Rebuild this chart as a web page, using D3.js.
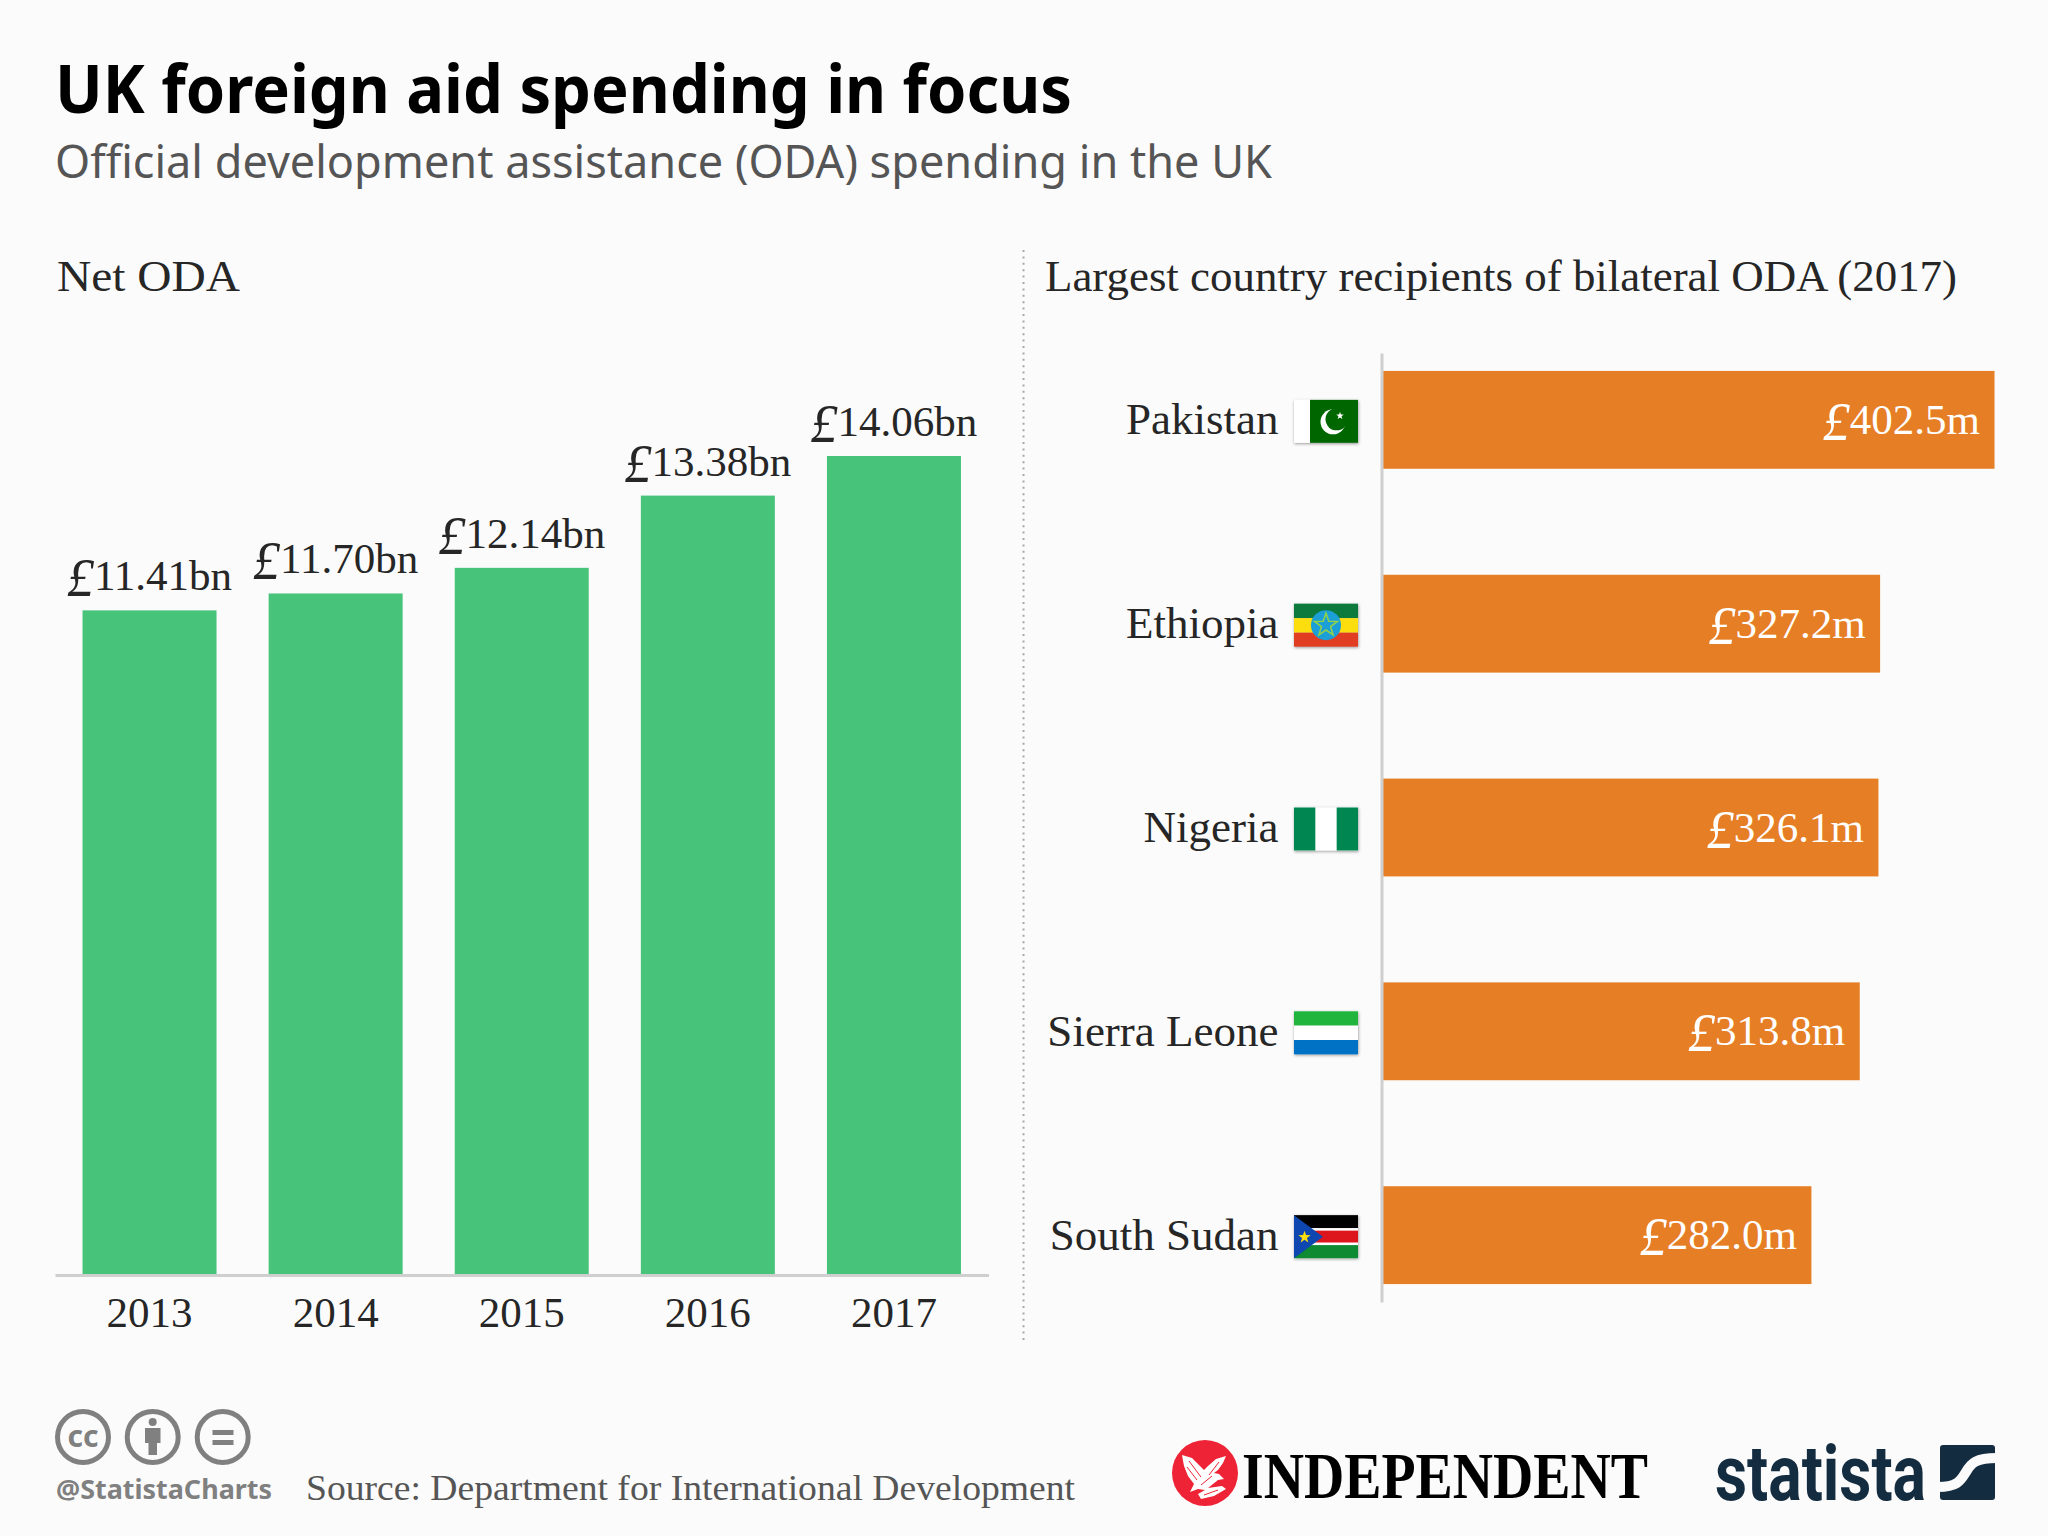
<!DOCTYPE html>
<html>
<head>
<meta charset="utf-8">
<script src="https://cdnjs.cloudflare.com/ajax/libs/d3/7.8.5/d3.min.js"></script>
<style>
  html, body { margin: 0; padding: 0; background: #fbfbfb; }
  svg { display: block; }
  text { font-family: "Liberation Serif", serif; fill: #262626; }
</style>
</head>
<body>
<div id="chart"></div>
<script>
var years = ['2013', '2014', '2015', '2016', '2017'];
var netOda = [11.41, 11.70, 12.14, 13.38, 14.06];
var netOdaLabels = ['11.41bn', '11.70bn', '12.14bn', '13.38bn', '14.06bn'];

var countries = ['Pakistan', 'Ethiopia', 'Nigeria', 'Sierra Leone', 'South Sudan'];
var bilateral = [402.5, 327.2, 326.1, 313.8, 282.0];
var bilateralLabels = ['402.5m', '327.2m', '326.1m', '313.8m', '282.0m'];

var GREEN = '#47c37a', ORANGE = '#e67e25', AXIS = '#cfcfcf';

var svg = d3.select('#chart').append('svg').attr('width', 2048).attr('height', 1536);
svg.append('rect').attr('width', 2048).attr('height', 1536).attr('fill', '#fbfbfb');

var defs = svg.append('defs');
var shadow = defs.append('filter').attr('id', 'flagShadow')
  .attr('x', '-10%').attr('y', '-10%').attr('width', '120%').attr('height', '125%');
shadow.append('feDropShadow').attr('dx', 0.5).attr('dy', 1).attr('stdDeviation', 1.6)
  .attr('flood-color', '#000').attr('flood-opacity', 0.4);

// fixed-width text helper, the reference fonts are not installed
function label(x, y, str, size, opts) {
  opts = opts || {};
  var t = svg.append('text').attr('x', x).attr('y', y).text(str)
    .style('font-size', size + 'px');
  if (opts.family) t.style('font-family', opts.family);
  if (opts.weight) t.style('font-weight', opts.weight);
  if (opts.fill) t.style('fill', opts.fill);
  if (opts.width) t.attr('textLength', opts.width).attr('lengthAdjust', 'spacingAndGlyphs');
  return t;
}

// the reference has a big swash pound sign hanging below the baseline
function addPound(sel, fill) {
  sel.append('tspan').text('£')
    .attr('dy', 6)
    .style('font-style', 'italic')
    .style('font-size', '54px')
    .style('fill', fill);
  sel.append('tspan').text(function(d) { return d; })
    .attr('dy', -6)
    .style('fill', fill);
}

var SANS = '"Noto Sans", sans-serif';
label(55, 113, 'UK foreign aid spending in focus', 67, { family: SANS, weight: 700, fill: '#000', width: 1017 });
label(55, 178, 'Official development assistance (ODA) spending in the UK', 45, { family: SANS, fill: '#555', width: 1217 });
label(57, 291, 'Net ODA', 44, { width: 183 });
label(1045, 291, 'Largest country recipients of bilateral ODA (2017)', 44, { width: 912 });

// divider between the panels
svg.append('line').attr('x1', 1023.5).attr('x2', 1023.5).attr('y1', 250).attr('y2', 1342)
  .attr('stroke', '#a8a8a8').attr('stroke-width', 2).attr('stroke-dasharray', '2 4.4');

// left panel
var x = d3.scaleBand().domain(years).range([55, 988.5]).paddingInner(0.28).paddingOuter(0.148);
var yLeft = d3.scaleLinear().domain([0, 14.06]).range([1275, 456]);

svg.selectAll('.bar').data(netOda).enter().append('rect')
  .attr('class', 'bar')
  .attr('x', function(d, i) { return x(years[i]); })
  .attr('y', function(d) { return yLeft(d); })
  .attr('width', x.bandwidth())
  .attr('height', function(d) { return yLeft(0) - yLeft(d); })
  .attr('fill', GREEN);

var xAxis = svg.append('g').attr('transform', 'translate(0,1275)')
  .call(d3.axisBottom(x).tickSize(0).tickSizeOuter(0).tickPadding(21));
xAxis.select('.domain').attr('stroke', AXIS).attr('stroke-width', 3);
xAxis.selectAll('text').style('font-size', '43px').style('font-family', '"Liberation Serif", serif').attr('fill', '#262626');

var topLabels = svg.selectAll('.top-label').data(netOdaLabels).enter().append('text')
  .attr('class', 'top-label')
  .attr('x', function(d, i) { return x(years[i]) + x.bandwidth() / 2; })
  .attr('y', function(d, i) { return yLeft(netOda[i]) - 20; })
  .attr('text-anchor', 'middle')
  .style('font-size', '43px');
addPound(topLabels, '#262626');

// right panel
var xRight = d3.scaleLinear().domain([0, 402.5]).range([1383, 1994.5]);
var y = d3.scaleBand().domain(countries).range([353, 1302]).paddingInner(0.52).paddingOuter(0.088);

svg.selectAll('.hbar').data(bilateral).enter().append('rect')
  .attr('class', 'hbar')
  .attr('x', xRight(0))
  .attr('y', function(d, i) { return y(countries[i]); })
  .attr('width', function(d) { return xRight(d) - xRight(0); })
  .attr('height', y.bandwidth())
  .attr('fill', ORANGE);

var yAxis = svg.append('g').attr('transform', 'translate(1381.5,0)')
  .call(d3.axisLeft(y).tickSize(0).tickSizeOuter(0).tickPadding(103));
yAxis.select('.domain').attr('stroke', AXIS).attr('stroke-width', 3);
yAxis.selectAll('text').style('font-size', '45px').style('font-family', '"Liberation Serif", serif').attr('fill', '#262626');

var barLabels = svg.selectAll('.bar-label').data(bilateralLabels).enter().append('text')
  .attr('class', 'bar-label')
  .attr('x', function(d, i) { return xRight(bilateral[i]) - 14.5; })
  .attr('y', function(d, i) { return y(countries[i]) + y.bandwidth() / 2 + 14; })
  .attr('text-anchor', 'end')
  .style('font-size', '43px');
addPound(barLabels, '#fff');

// flags
var FW = 64, FH = 43;
function starPath(cx, cy, r) {
  var pts = [];
  for (var i = 0; i < 10; i++) {
    var rad = i % 2 ? r * 0.4 : r;
    var a = -Math.PI / 2 + i * Math.PI / 5;
    pts.push([cx + rad * Math.cos(a), cy + rad * Math.sin(a)]);
  }
  return 'M' + pts.join('L') + 'Z';
}
function rect(g, px, py, w, h, fill) {
  g.append('rect').attr('x', px).attr('y', py).attr('width', w).attr('height', h).attr('fill', fill);
}
var flagPainters = {
  'Pakistan': function(g) {
    rect(g, 0, 0, FW, FH, '#fff');
    rect(g, 16, 0, FW - 16, FH, '#006600');
    g.append('circle').attr('cx', 39).attr('cy', 22).attr('r', 12.5).attr('fill', '#fff');
    g.append('circle').attr('cx', 42.5).attr('cy', 19.5).attr('r', 11).attr('fill', '#006600');
    g.append('path').attr('d', starPath(46, 16, 4)).attr('fill', '#fff');
  },
  'Ethiopia': function(g) {
    rect(g, 0, 0, FW, 14.5, '#0b7a3e');
    rect(g, 0, 14.5, FW, 14.5, '#fcdd0f');
    rect(g, 0, 29, FW, 14, '#e03c24');
    g.append('circle').attr('cx', 32).attr('cy', 21.5).attr('r', 15).attr('fill', '#1a9fd6');
    g.append('path').attr('d', starPath(32, 21.5, 12)).attr('fill', 'none').attr('stroke', '#8fd04e').attr('stroke-width', 1.6);
  },
  'Nigeria': function(g) {
    rect(g, 0, 0, FW, FH, '#fff');
    rect(g, 0, 0, FW / 3, FH, '#008751');
    rect(g, FW * 2 / 3, 0, FW / 3, FH, '#008751');
  },
  'Sierra Leone': function(g) {
    rect(g, 0, 0, FW, 14.3, '#20b53c');
    rect(g, 0, 14.3, FW, 14.4, '#fff');
    rect(g, 0, 28.7, FW, 14.3, '#0072c6');
  },
  'South Sudan': function(g) {
    rect(g, 0, 0, FW, 13, '#000');
    rect(g, 0, 13, FW, 3, '#fff');
    rect(g, 0, 15.5, FW, 12, '#dc141c');
    rect(g, 0, 27.5, FW, 3, '#fff');
    rect(g, 0, 30, FW, 13, '#078a32');
    g.append('path').attr('d', 'M0,0L29,21.5L0,43Z').attr('fill', '#0f47af');
    g.append('path').attr('d', starPath(10.5, 22, 6.5)).attr('fill', '#fcdd09');
  }
};
countries.forEach(function(c) {
  var g = svg.append('g')
    .attr('transform', 'translate(1294,' + (y(c) + y.bandwidth() / 2 - FH / 2 + 1.5) + ')')
    .attr('filter', 'url(#flagShadow)');
  flagPainters[c](g);
});

// footer
var GREY = '#808080';
var icons = svg.append('g').attr('fill', 'none').attr('stroke', GREY).attr('stroke-width', 5);
[83, 152.7, 222.7].forEach(function(cx) {
  icons.append('circle').attr('cx', cx).attr('cy', 1437).attr('r', 25.5).attr('fill', '#fbfbfb');
});
label(83, 1447, 'cc', 30, { family: SANS, weight: 700, fill: GREY }).attr('text-anchor', 'middle');
svg.append('circle').attr('cx', 152.7).attr('cy', 1422).attr('r', 4).attr('fill', GREY);
svg.append('path').attr('fill', GREY)
  .attr('d', 'M145,1428H160.5V1443H157V1455H148.5V1443H145Z');
svg.append('rect').attr('x', 212.5).attr('y', 1430).attr('width', 21).attr('height', 5).attr('fill', GREY);
svg.append('rect').attr('x', 212.5).attr('y', 1440).attr('width', 21).attr('height', 5).attr('fill', GREY);

label(56, 1499, '@StatistaCharts', 26, { family: SANS, weight: 700, fill: GREY, width: 216 });
label(306, 1500, 'Source: Department for International Development', 35, { fill: '#555', width: 769 });

// publisher marks
svg.append('circle').attr('cx', 1205).attr('cy', 1473).attr('r', 33).attr('fill', '#ee2436');
svg.append('path').attr('fill', '#fff')
  .attr('d', 'M1182,1455L1192,1458L1204,1470L1208,1466L1216,1459L1226,1456L1223,1463L1218,1470L1214,1473L1219,1474L1224,1479L1218,1480L1213,1484L1208,1488L1222,1486L1226,1489L1214,1496L1201,1499L1198,1494L1205,1490L1198,1489L1190,1492L1194,1484L1188,1476L1184,1466Z');
svg.append('path').attr('fill', 'none').attr('stroke', '#ee2436').attr('stroke-width', 1)
  .attr('d', 'M1189,1461L1201,1477M1187,1467L1197,1480M1219,1462L1209,1475M1201,1485L1212,1476M1204,1495L1218,1490');
label(1242, 1498, 'INDEPENDENT', 65, { fill: '#000', weight: 700, width: 406 });
label(1715, 1500, 'statista', 78, { family: 'Roboto, sans-serif', weight: 700, fill: '#142c40', width: 211 });
svg.append('rect').attr('x', 1940).attr('y', 1445).attr('width', 55).attr('height', 55).attr('rx', 3).attr('fill', '#142c40');
svg.append('path').attr('fill', 'none').attr('stroke', '#fbfbfb').attr('stroke-width', 10)
  .attr('d', 'M1938,1487C1958,1487 1961,1480 1966,1472C1971,1463 1976,1458 1997,1458');
</script>
</body>
</html>
